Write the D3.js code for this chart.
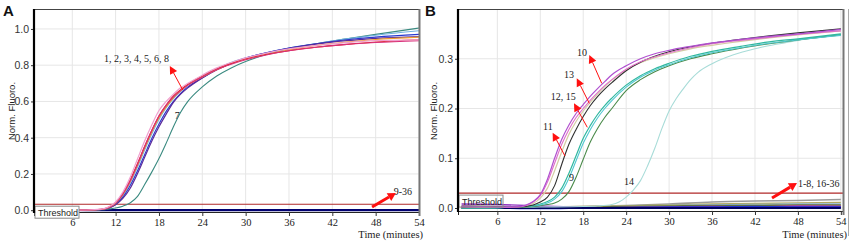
<!DOCTYPE html>
<html><head><meta charset="utf-8">
<script src="https://cdn.jsdelivr.net/npm/d3@7"></script>
<style>body{margin:0;background:#fff}svg{display:block}</style>
</head><body>
<svg id="c" width="851" height="242"></svg>
<script>
// ---------- DATA ----------
const xTicks = [6, 12, 18, 24, 30, 36, 42, 48, 54];
const yTicksA = [0, 0.2, 0.4, 0.6, 0.8, 1.0];
const yTicksB = [0, 0.1, 0.2, 0.3];
const thresholdA = 0.033;
const thresholdB = 0.03;

// Panel A: samples 1-8 (positive), 9-36 (negative)
const timeA = [1,5,8,10,11,12,13,14,15,16,17,18,19,20,21,22,24,26,28,30,33,36,40,44,48,54];
const a1 = [0,0,0.001,0.006,0.018,0.045,0.1,0.18,0.28,0.38,0.47,0.55,0.6,0.64,0.675,0.7,0.745,0.785,0.815,0.84,0.868,0.89,0.91,0.925,0.935,0.94];
const a2 = [0,0,0.001,0.005,0.015,0.04,0.09,0.16,0.25,0.35,0.44,0.52,0.58,0.625,0.66,0.69,0.735,0.775,0.805,0.83,0.858,0.88,0.9,0.915,0.925,0.935];
const a3 = [0,0,0.001,0.004,0.014,0.038,0.085,0.155,0.245,0.34,0.43,0.51,0.57,0.62,0.658,0.69,0.735,0.775,0.81,0.835,0.862,0.885,0.91,0.928,0.942,0.955];
const a4 = [0,0,0.001,0.005,0.016,0.042,0.09,0.165,0.255,0.35,0.44,0.52,0.58,0.63,0.665,0.695,0.74,0.78,0.81,0.835,0.86,0.88,0.9,0.915,0.928,0.94];
const a5 = [0,0,0.001,0.004,0.013,0.035,0.08,0.15,0.235,0.33,0.42,0.5,0.565,0.615,0.655,0.69,0.74,0.78,0.815,0.84,0.87,0.895,0.92,0.945,0.965,0.99];
const a6 = [0,0,0.001,0.004,0.012,0.032,0.072,0.135,0.215,0.305,0.395,0.475,0.545,0.6,0.645,0.68,0.73,0.775,0.81,0.84,0.87,0.895,0.92,0.94,0.955,0.97];
const a8 = [0,0,0.001,0.003,0.01,0.03,0.065,0.12,0.2,0.29,0.38,0.46,0.53,0.595,0.64,0.675,0.73,0.775,0.81,0.838,0.868,0.893,0.918,0.935,0.948,0.958];
const a7 = [0,0,0,0.002,0.006,0.012,0.022,0.04,0.075,0.14,0.21,0.285,0.37,0.46,0.54,0.6,0.68,0.74,0.785,0.82,0.86,0.89,0.92,0.945,0.97,1.005];
const timeNeg = [1,6,12,18,24,30,36,42,48,54];
const aNeg1 = [0.001,0.001,0.0,0.0,0.0,0.0,0.0,0.0,0.0,0.0];
const aNeg2 = [0.0,0.002,0.0,0.001,0.0,0.0,0.0,0.001,0.0,0.0];

// Panel B: samples 9-15 (positive), 1-8 & 16-36 (negative)
const timeB = [1,4,7,9,10,11,12,13,14,15,16,17,18,19,20,21,22,24,26,28,30,33,36,40,44,48,54];
const b10 = [0.004,0.003,0.002,0.003,0.006,0.013,0.027,0.058,0.1,0.138,0.167,0.19,0.208,0.225,0.24,0.254,0.268,0.286,0.3,0.31,0.317,0.325,0.332,0.339,0.345,0.35,0.359];
const b11 = [0.002,0.001,0.001,0.002,0.005,0.012,0.025,0.052,0.09,0.128,0.158,0.182,0.2,0.217,0.232,0.246,0.258,0.279,0.294,0.304,0.312,0.322,0.33,0.337,0.343,0.349,0.356];
const b13 = [0.001,0.001,0.001,0.002,0.003,0.006,0.012,0.022,0.045,0.088,0.128,0.158,0.184,0.206,0.224,0.239,0.252,0.276,0.293,0.305,0.314,0.324,0.331,0.339,0.346,0.352,0.36];
const b12 = [0.001,0.001,0.001,0.002,0.004,0.009,0.02,0.04,0.075,0.113,0.148,0.174,0.195,0.213,0.229,0.244,0.257,0.278,0.292,0.302,0.31,0.32,0.327,0.335,0.342,0.348,0.356];
const b15 = [0,0,0.001,0.002,0.003,0.005,0.008,0.013,0.022,0.04,0.07,0.105,0.14,0.166,0.188,0.206,0.221,0.247,0.266,0.28,0.291,0.305,0.315,0.325,0.334,0.34,0.35];
const b15b = [0,0,0.001,0.002,0.003,0.004,0.006,0.01,0.018,0.033,0.06,0.095,0.13,0.158,0.181,0.2,0.216,0.243,0.263,0.277,0.288,0.302,0.312,0.322,0.331,0.338,0.347];
const b9 = [0,0,0.001,0.001,0.002,0.003,0.005,0.007,0.01,0.018,0.033,0.062,0.098,0.133,0.16,0.182,0.2,0.236,0.258,0.274,0.286,0.3,0.31,0.321,0.33,0.338,0.348];
const time14 = [1,6,12,18,20,22,23,24,25,26,27,28,29,30,31,32,33,34,36,39,42,45,48,51,54];
const b14 = [0.001,0.001,0.002,0.003,0.004,0.007,0.012,0.022,0.036,0.055,0.085,0.12,0.16,0.195,0.22,0.24,0.258,0.272,0.29,0.308,0.32,0.329,0.337,0.343,0.349];
const bNeg1 = [0.003,0.002,0.002,0.003,0.005,0.008,0.012,0.014,0.015,0.017];
const bNeg2 = [0.002,0.001,0.002,0.003,0.004,0.006,0.008,0.009,0.01,0.011];
const bNeg3 = [0.0,0.0,0.001,0.002,0.003,0.005,0.006,0.007,0.008,0.008];
const bNeg4 = [0.001,0.001,0.001,0.002,0.003,0.004,0.004,0.005,0.005,0.005];
const bNeg5 = [0.004,0.003,0.002,0.002,0.003,0.004,0.005,0.005,0.006,0.006];
const bNeg6 = [0.002,0.001,0.0,0.0,0.001,0.002,0.003,0.002,0.004,0.003];
const bNeg7 = [0.008,0.007,0.004,0.001,0.0,0.001,0.002,0.002,0.003,0.003];
const bNeg8 = [0.001,0.0,-0.001,0.0,0.001,0.002,0.002,0.003,0.002,0.002];
const bNeg9 = [0,0,0,0,0,0,0,0,0,0];

// ---------- STYLES ----------
const seriesA = [
  {t: timeNeg, v: aNeg2, c: "#3050e0", w: 1.5},
  {t: timeNeg, v: aNeg1, c: "#000070", w: 2.2},
  {t: timeA, v: a7, c: "#3a8a80", w: 1.1},
  {t: timeA, v: a5, c: "#70b0e0", w: 1.1},
  {t: timeA, v: a6, c: "#2838d0", w: 1.1},
  {t: timeA, v: a8, c: "#5a2a9a", w: 1.2},
  {t: timeA, v: a3, c: "#f0a030", w: 1.1},
  {t: timeA, v: a4, c: "#e02020", w: 1.1},
  {t: timeA, v: a2, c: "#d8307a", w: 1.1},
  {t: timeA, v: a1, c: "#f0a0d0", w: 1.2}
];
const seriesB = [
  {t: timeNeg, v: bNeg1, c: "#9a9a9a", w: 1.6},
  {t: timeNeg, v: bNeg2, c: "#b0a860", w: 1.6},
  {t: timeNeg, v: bNeg3, c: "#8fb8e0", w: 1.4},
  {t: timeNeg, v: bNeg4, c: "#e0d040", w: 1.6},
  {t: timeNeg, v: bNeg5, c: "#607040", w: 1.4},
  {t: timeNeg, v: bNeg6, c: "#c040a0", w: 1.4},
  {t: timeNeg, v: bNeg7, c: "#9030c0", w: 1.4},
  {t: timeNeg, v: bNeg8, c: "#2030d0", w: 1.6},
  {t: timeNeg, v: bNeg9, c: "#000060", w: 2.0},
  {t: time14, v: b14, c: "#a8dcd8", w: 1.1},
  {t: timeB, v: b9, c: "#4a8a4a", w: 1.1},
  {t: timeB, v: b15b, c: "#50c8d0", w: 1.1},
  {t: timeB, v: b15, c: "#30b8a0", w: 1.2},
  {t: timeB, v: b12, c: "#d4cca4", w: 1.2},
  {t: timeB, v: b13, c: "#303030", w: 1.1},
  {t: timeB, v: b11, c: "#e070c8", w: 1.1},
  {t: timeB, v: b10, c: "#b050d0", w: 1.2}
];

const svg = d3.select("#c");
const defs = svg.append("defs");
const SANS = "'Liberation Sans', Arial, sans-serif";
const SERIF = "'Liberation Serif', 'Times New Roman', serif";

function drawPanel(p) {
  const x = d3.scaleLinear().domain(p.xDom).range([p.left, p.right]);
  const y = d3.scaleLinear().domain(p.yDom).range([p.bottom, p.top]);
  const g = svg.append("g");
  // grid
  g.append("g").selectAll("line").data(xTicks).join("line")
    .attr("x1", d => x(d)).attr("x2", d => x(d)).attr("y1", p.top).attr("y2", p.bottom)
    .attr("stroke", "#e6e6e6").attr("stroke-width", 1);
  g.append("g").selectAll("line").data(p.yTicks).join("line")
    .attr("x1", p.left).attr("x2", p.right).attr("y1", d => y(d)).attr("y2", d => y(d))
    .attr("stroke", "#e6e6e6").attr("stroke-width", 1);
  // x axis
  const xa = g.append("g").attr("transform", `translate(0,${p.bottom})`)
    .call(d3.axisBottom(x).tickValues(xTicks).tickSize(4).tickPadding(3).tickFormat(d3.format("d")));
  xa.select(".domain").attr("stroke", "#222");
  xa.selectAll(".tick line").attr("stroke", "#333");
  xa.selectAll("text").attr("font-family", SERIF).attr("font-size", "10.5px").attr("fill", "#222");
  // y axis
  const ya = g.append("g").attr("transform", `translate(${p.left},0)`)
    .call(d3.axisLeft(y).tickValues(p.yTicks).tickSize(3).tickPadding(2).tickFormat(d3.format(".1f")));
  ya.select(".domain").remove();
  ya.selectAll(".tick line").attr("stroke", "#333");
  ya.selectAll("text").attr("font-family", SANS).attr("font-size", "10.5px").attr("fill", "#333");
  // threshold
  g.append("line").attr("x1", p.left).attr("x2", p.right)
    .attr("y1", y(p.threshold)).attr("y2", y(p.threshold))
    .attr("stroke", "#b02828").attr("stroke-width", 1.1);
  // curves
  const cid = "clip" + p.name;
  defs.append("clipPath").attr("id", cid).append("rect")
    .attr("x", p.left).attr("y", p.top).attr("width", p.right - p.left).attr("height", p.bottom - p.top + 1);
  const line = d3.line().x(d => x(d[0])).y(d => y(d[1])).curve(d3.curveMonotoneX);
  g.append("g").attr("clip-path", `url(#${cid})`).selectAll("path").data(p.series).join("path")
    .attr("d", s => line(s.t.map((t, i) => [t, s.v[i]])))
    .attr("fill", "none").attr("stroke", s => s.c).attr("stroke-width", s => s.w);
  // threshold box
  const bx = p.boxX, by = y(p.threshold) + p.boxDy;
  g.append("rect").attr("x", bx).attr("y", by).attr("width", 44).attr("height", 12)
    .attr("fill", p.boxFill).attr("stroke", "#8a8a8a").attr("stroke-width", 1);
  g.append("text").attr("x", bx + 3).attr("y", by + 9.5).text("Threshold")
    .attr("font-family", SANS).attr("font-size", "9px").attr("fill", "#222");
  // frame
  g.append("line").attr("x1", p.left).attr("x2", p.right).attr("y1", p.top + 0.5).attr("y2", p.top + 0.5)
    .attr("stroke", "#444").attr("stroke-width", 1);
  g.append("line").attr("x1", p.right + 0.5).attr("x2", p.right + 0.5).attr("y1", p.top).attr("y2", p.bottom + 4)
    .attr("stroke", "#777").attr("stroke-width", 2);
  g.append("line").attr("x1", p.left).attr("x2", p.left).attr("y1", p.top).attr("y2", p.bottom + 1)
    .attr("stroke", "#000").attr("stroke-width", 2.2);
  // titles
  g.append("text").attr("x", p.right + 4).attr("y", 238).attr("text-anchor", "end")
    .attr("font-family", SERIF).attr("font-size", "10.5px").attr("fill", "#222").text("Time (minutes)");
  g.append("text").attr("transform", `translate(${p.ylabX},111) rotate(-90)`).attr("text-anchor", "middle")
    .attr("font-family", SANS).attr("font-size", "9.5px").attr("fill", "#222").text("Norm. Fluoro.");
  g.append("text").attr("x", p.letterX).attr("y", 16).attr("font-family", SANS).attr("font-weight", "bold")
    .attr("font-size", "15px").attr("fill", "#111").text(p.name);
  // annotations
  p.labels.forEach(l => {
    g.append("text").attr("x", x(l.t)).attr("y", y(l.v)).attr("text-anchor", l.a || "start")
      .attr("font-family", SERIF).attr("font-size", "10px").attr("fill", "#222").text(l.s);
  });
  p.arrows.forEach(a => arrow(g, x(a.t0), y(a.v0), x(a.t1), y(a.v1), a.w, a.hl, a.hw));
  return {x, y};
}

function arrow(g, x1, y1, x2, y2, w, hl, hw) {
  const ang = Math.atan2(y2 - y1, x2 - x1);
  const bxp = x2 - hl * Math.cos(ang), byp = y2 - hl * Math.sin(ang);
  g.append("line").attr("x1", x1).attr("y1", y1).attr("x2", bxp).attr("y2", byp)
    .attr("stroke", "#ff1010").attr("stroke-width", w);
  const nx = -Math.sin(ang) * hw / 2, ny = Math.cos(ang) * hw / 2;
  g.append("path").attr("d", `M${x2},${y2}L${bxp + nx},${byp + ny}L${bxp - nx},${byp - ny}Z`)
    .attr("fill", "#ff1010");
}

drawPanel({
  name: "A", xDom: [0.7, 54], yDom: [-0.01, 1.11], left: 34, right: 419, top: 9, bottom: 212,
  yTicks: yTicksA, threshold: thresholdA, series: seriesA, boxX: 35, boxDy: 2, boxFill: "#fff",
  ylabX: 15, letterX: 3,
  labels: [
    {t: 14.9, v: 0.818, s: "1, 2, 3, 4, 5, 6, 8", a: "middle"},
    {t: 20.2, v: 0.505, s: "7"},
    {t: 50.5, v: 0.084, s: "9-36"}
  ],
  arrows: [
    {t0: 21.3, v0: 0.663, t1: 19.5, v1: 0.796, w: 1, hl: 8, hw: 8},
    {t0: 47.5, v0: 0.018, t1: 50.8, v1: 0.095, w: 3, hl: 8, hw: 9}
  ]
});
drawPanel({
  name: "B", xDom: [0.5, 54.3], yDom: [-0.006, 0.4], left: 458, right: 843, top: 9, bottom: 211,
  yTicks: yTicksB, threshold: thresholdB, series: seriesB, boxX: 459, boxDy: 2, boxFill: "none",
  ylabX: 437, letterX: 425,
  labels: [
    {t: 17.13, v: 0.3055, s: "10"},
    {t: 15.31, v: 0.262, s: "13"},
    {t: 13.45, v: 0.217, s: "12, 15"},
    {t: 12.38, v: 0.1568, s: "11"},
    {t: 16.01, v: 0.0549, s: "9"},
    {t: 23.7, v: 0.0462, s: "14"},
    {t: 48.0, v: 0.0422, s: "1-8, 16-36"}
  ],
  arrows: [
    {t0: 20.58, v0: 0.2507, t1: 18.85, v1: 0.3075, w: 1, hl: 8, hw: 8},
    {t0: 18.85, v0: 0.2104, t1: 17.09, v1: 0.2607, w: 1, hl: 8, hw: 8},
    {t0: 18.57, v0: 0.1622, t1: 16.71, v1: 0.2104, w: 1, hl: 8, hw: 8},
    {t0: 15.45, v0: 0.1045, t1: 13.73, v1: 0.1514, w: 1, hl: 8, hw: 8},
    {t0: 44.38, v0: 0.0201, t1: 47.87, v1: 0.0503, w: 3, hl: 8, hw: 9}
  ]
});
// outer right edge line
svg.append("line").attr("x1", 848.5).attr("x2", 848.5).attr("y1", 9).attr("y2", 236)
  .attr("stroke", "#aaa").attr("stroke-width", 1);
</script>
</body></html>
